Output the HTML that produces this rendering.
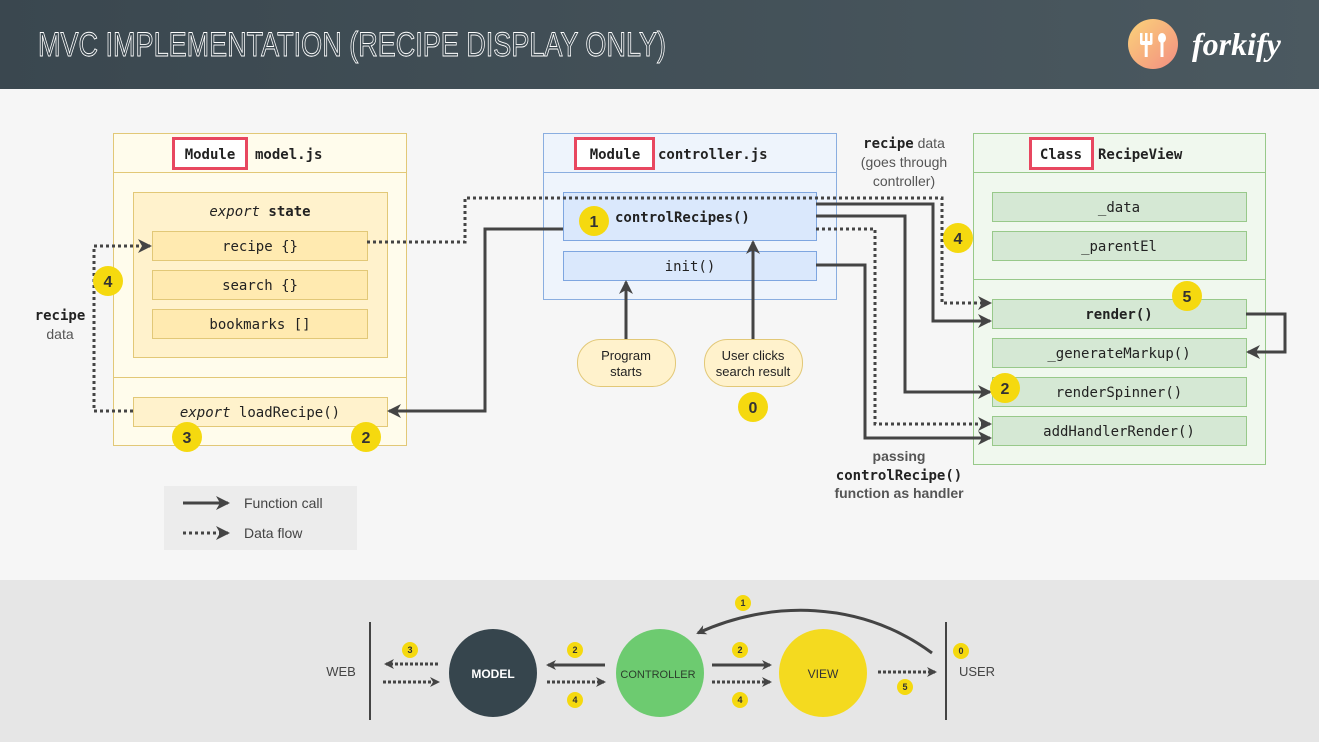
<!DOCTYPE html>
<html><head><meta charset="utf-8"><style>
body{margin:0;width:1319px;height:742px;overflow:hidden;background:#f6f6f6}
svg{display:block}
.m{font-family:"DejaVu Sans Mono","Liberation Mono",monospace;font-size:14px;fill:#222}
.s{font-family:"Liberation Sans",sans-serif}
</style></head><body>
<svg width="1319" height="742" xmlns="http://www.w3.org/2000/svg">
<defs>
<linearGradient id="hd" x1="0" x2="1"><stop offset="0" stop-color="#3a474f"/><stop offset="1" stop-color="#4b5960"/></linearGradient>
<linearGradient id="lg" x1="0" y1="0" x2="1" y2="1"><stop offset="0" stop-color="#fbd379"/><stop offset="1" stop-color="#f38e82"/></linearGradient>
<marker id="a" markerWidth="10" markerHeight="10" refX="8" refY="5" orient="auto" markerUnits="userSpaceOnUse"><path d="M0,0 L10,5 L0,10 L3,5z" fill="#444"/></marker>
<marker id="b" markerWidth="14" markerHeight="14" refX="12" refY="7" orient="auto" markerUnits="userSpaceOnUse"><path d="M0,0 L14,7 L0,14 L4,7z" fill="#444"/></marker>
</defs>
<rect width="1319" height="89" fill="url(#hd)"/>
<text x="38" y="56" class="s" font-size="34" fill="none" stroke="#fff" stroke-width="0.9" textLength="628" lengthAdjust="spacingAndGlyphs">MVC IMPLEMENTATION (RECIPE DISPLAY ONLY)</text>
<circle cx="1153" cy="44" r="25" fill="url(#lg)"/>
<g fill="#fff"><rect x="1140" y="33" width="2.5" height="10"/><rect x="1145" y="33" width="2.5" height="10"/><rect x="1150" y="33" width="2.5" height="10"/><rect x="1140" y="41" width="12.5" height="4" rx="2"/><rect x="1144.7" y="43" width="3" height="14"/>
<ellipse cx="1162" cy="38" rx="4" ry="5"/><rect x="1160.5" y="41" width="3" height="16"/></g>
<text x="1192" y="55" font-family="Liberation Serif,serif" font-style="italic" font-weight="bold" font-size="32" fill="#fff">forkify</text>
<rect y="89" width="1319" height="491" fill="#f6f6f6"/>
<rect y="580" width="1319" height="162" fill="#e6e6e6"/>

<!-- model -->
<rect x="113.5" y="133.5" width="293" height="312" fill="#fffcec" stroke="#e2c877"/>
<line x1="113" y1="172.5" x2="406" y2="172.5" stroke="#e2c877"/>
<line x1="113" y1="377.5" x2="406" y2="377.5" stroke="#e2c877"/>
<rect x="173.5" y="138.5" width="73" height="30" fill="#fff" stroke="#e84760" stroke-width="3"/>
<text x="210" y="159" text-anchor="middle" class="m" font-weight="bold" font-size="16">Module</text>
<text x="255" y="159" class="m" font-weight="bold" font-size="16">model.js</text>
<rect x="133.5" y="192.5" width="254" height="165" fill="#fff2cc" stroke="#e2c877"/>
<text x="260" y="216" text-anchor="middle" class="m"><tspan font-style="italic">export</tspan> <tspan font-weight="bold">state</tspan></text>
<rect x="152.5" y="231.5" width="215" height="29" fill="#ffeab0" stroke="#e2c877"/>
<text x="260" y="251" text-anchor="middle" class="m">recipe {}</text>
<rect x="152.5" y="270.5" width="215" height="29" fill="#ffeab0" stroke="#e2c877"/>
<text x="260" y="290" text-anchor="middle" class="m">search {}</text>
<rect x="152.5" y="309.5" width="215" height="29" fill="#ffeab0" stroke="#e2c877"/>
<text x="260" y="329" text-anchor="middle" class="m">bookmarks []</text>
<rect x="133.5" y="397.5" width="254" height="29" fill="#fff2cc" stroke="#e2c877"/>
<text x="260" y="417" text-anchor="middle" class="m"><tspan font-style="italic">export</tspan> loadRecipe()</text>

<!-- controller -->
<rect x="543.5" y="133.5" width="293" height="166" fill="#eef4fc" stroke="#8aaee0"/>
<line x1="543" y1="172.5" x2="836" y2="172.5" stroke="#8aaee0"/>
<rect x="575.5" y="138.5" width="78" height="30" fill="#fff" stroke="#e84760" stroke-width="3"/>
<text x="615" y="159" text-anchor="middle" class="m" font-weight="bold" font-size="16">Module</text>
<text x="658" y="159" class="m" font-weight="bold" font-size="16">controller.js</text>
<rect x="563.5" y="192.5" width="253" height="48" fill="#dae8fc" stroke="#7ea6e0"/>
<text x="615" y="222" class="m" font-weight="bold" font-size="15">controlRecipes()</text>
<rect x="563.5" y="251.5" width="253" height="29" fill="#dae8fc" stroke="#7ea6e0"/>
<text x="690" y="271" text-anchor="middle" class="m">init()</text>

<!-- view -->
<rect x="973.5" y="133.5" width="292" height="331" fill="#f0f8ee" stroke="#98c98a"/>
<line x1="973" y1="172.5" x2="1265" y2="172.5" stroke="#98c98a"/>
<line x1="973" y1="279.5" x2="1265" y2="279.5" stroke="#98c98a"/>
<rect x="1030.5" y="138.5" width="62" height="30" fill="#fff" stroke="#e84760" stroke-width="3"/>
<text x="1061" y="159" text-anchor="middle" class="m" font-weight="bold" font-size="16">Class</text>
<text x="1098" y="159" class="m" font-weight="bold" font-size="16">RecipeView</text>
<g fill="#d5e8d4" stroke="#98c98a">
<rect x="992.5" y="192.5" width="254" height="29"/><rect x="992.5" y="231.5" width="254" height="29"/>
<rect x="992.5" y="299.5" width="254" height="29"/><rect x="992.5" y="338.5" width="254" height="29"/>
<rect x="992.5" y="377.5" width="254" height="29"/><rect x="992.5" y="416.5" width="254" height="29"/></g>
<g class="m" text-anchor="middle">
<text x="1119" y="212">_data</text><text x="1119" y="251">_parentEl</text>
<text x="1119" y="319" font-weight="bold">render()</text><text x="1119" y="358">_generateMarkup()</text>
<text x="1119" y="397">renderSpinner()</text><text x="1119" y="436">addHandlerRender()</text></g>

<!-- connectors -->
<g fill="none" stroke="#444" stroke-width="3">
<path d="M367 242 H465 V198 H942 V303 H990" stroke-dasharray="3 3" marker-end="url(#b)"/>
<path d="M816 204 H933 V321 H990" marker-end="url(#b)"/>
<path d="M816 216 H905 V392 H990" marker-end="url(#b)"/>
<path d="M816 229 H875 V424 H990" stroke-dasharray="3 3" marker-end="url(#b)"/>
<path d="M816 265 H865 V438 H990" marker-end="url(#b)"/>
<path d="M1246 314 H1285 V352 H1248" marker-end="url(#b)"/>
<path d="M563 229 H485 V411 H389" marker-end="url(#b)"/>
<path d="M133 411 H94 V246 H150" stroke-dasharray="3 3" marker-end="url(#b)"/>
<path d="M626 339 V282" marker-end="url(#b)"/>
<path d="M753 339 V242" marker-end="url(#b)"/>
</g>
<rect x="577.5" y="339.5" width="98" height="47" rx="23" fill="#fff2cc" stroke="#e2c877"/>
<text x="626" y="360" text-anchor="middle" class="s" font-size="13" fill="#222">Program</text>
<text x="626" y="376" text-anchor="middle" class="s" font-size="13" fill="#222">starts</text>
<rect x="704.5" y="339.5" width="98" height="47" rx="23" fill="#fff2cc" stroke="#e2c877"/>
<text x="753" y="360" text-anchor="middle" class="s" font-size="13" fill="#222">User clicks</text>
<text x="753" y="376" text-anchor="middle" class="s" font-size="13" fill="#222">search result</text>

<g class="s" font-weight="bold" font-size="16" fill="#333" text-anchor="middle">
<circle cx="594" cy="221" r="15" fill="#f5d90f"/><text x="594" y="227">1</text>
<circle cx="958" cy="238" r="15" fill="#f5d90f"/><text x="958" y="244">4</text>
<circle cx="1187" cy="296" r="15" fill="#f5d90f"/><text x="1187" y="302">5</text>
<circle cx="1005" cy="388" r="15" fill="#f5d90f"/><text x="1005" y="394">2</text>
<circle cx="187" cy="437" r="15" fill="#f5d90f"/><text x="187" y="443">3</text>
<circle cx="366" cy="437" r="15" fill="#f5d90f"/><text x="366" y="443">2</text>
<circle cx="108" cy="281" r="15" fill="#f5d90f"/><text x="108" y="287">4</text>
<circle cx="753" cy="407" r="15" fill="#f5d90f"/><text x="753" y="413">0</text>
</g>

<g text-anchor="middle" font-size="14" fill="#555" class="s">
<text x="904" y="148"><tspan class="m" font-weight="bold" fill="#222">recipe</tspan> data</text>
<text x="904" y="167">(goes through</text><text x="904" y="186">controller)</text>
<text x="60" y="320" class="m" font-weight="bold" fill="#222">recipe</text>
<text x="60" y="339">data</text>
<text x="899" y="461" font-weight="bold">passing</text>
<text x="899" y="480" class="m" font-weight="bold" fill="#222">controlRecipe()</text>
<text x="899" y="498" font-weight="bold">function as handler</text>
</g>

<rect x="164" y="486" width="193" height="64" fill="#ececec"/>
<path d="M183 503 H228" stroke="#444" stroke-width="3" marker-end="url(#b)"/>
<path d="M183 533 H228" stroke="#444" stroke-width="3" stroke-dasharray="3 3" marker-end="url(#b)"/>
<text x="244" y="508" class="s" font-size="14" fill="#444">Function call</text>
<text x="244" y="538" class="s" font-size="14" fill="#444">Data flow</text>

<!-- bottom -->
<line x1="370" y1="622" x2="370" y2="720" stroke="#444" stroke-width="2"/>
<line x1="946" y1="622" x2="946" y2="720" stroke="#444" stroke-width="2"/>
<ellipse cx="493" cy="673" rx="44" ry="44" fill="#36454d"/>
<ellipse cx="660" cy="673" rx="44" ry="44" fill="#6dcb70"/>
<ellipse cx="823" cy="673" rx="44" ry="44" fill="#f4da1f"/>
<g class="s" font-size="12" font-weight="bold" text-anchor="middle">
<text x="493" y="678" fill="#fff">MODEL</text><text x="658" y="678" fill="#2c3e2c" font-size="11" font-weight="normal">CONTROLLER</text><text x="823" y="678" fill="#333" font-weight="normal">VIEW</text>
<text x="341" y="676" fill="#444" font-weight="normal" font-size="13">WEB</text><text x="977" y="676" fill="#444" font-weight="normal" font-size="13">USER</text></g>
<g stroke="#444" stroke-width="3" fill="none">
<path d="M438 664 H386" stroke-dasharray="3 2" marker-end="url(#a)"/>
<path d="M383 682 H438" stroke-dasharray="3 2" marker-end="url(#a)"/>
<path d="M605 665 H548" marker-end="url(#a)"/>
<path d="M547 682 H604" stroke-dasharray="3 2" marker-end="url(#a)"/>
<path d="M712 665 H770" marker-end="url(#a)"/>
<path d="M712 682 H770" stroke-dasharray="3 2" marker-end="url(#a)"/>
<path d="M878 672 H935" stroke-dasharray="3 2" marker-end="url(#a)"/>
<path d="M932 653 C860 600 770 600 698 633" marker-end="url(#a)"/>
</g>
<g class="s" font-size="9" font-weight="bold" fill="#333" text-anchor="middle">
<circle cx="410" cy="650" r="8" fill="#f5d90f"/><text x="410" y="653">3</text>
<circle cx="575" cy="650" r="8" fill="#f5d90f"/><text x="575" y="653">2</text>
<circle cx="575" cy="700" r="8" fill="#f5d90f"/><text x="575" y="703">4</text>
<circle cx="740" cy="650" r="8" fill="#f5d90f"/><text x="740" y="653">2</text>
<circle cx="740" cy="700" r="8" fill="#f5d90f"/><text x="740" y="703">4</text>
<circle cx="743" cy="603" r="8" fill="#f5d90f"/><text x="743" y="606">1</text>
<circle cx="905" cy="687" r="8" fill="#f5d90f"/><text x="905" y="690">5</text>
<circle cx="961" cy="651" r="8" fill="#f5d90f"/><text x="961" y="654">0</text>
</g>
</svg>
</body></html>
